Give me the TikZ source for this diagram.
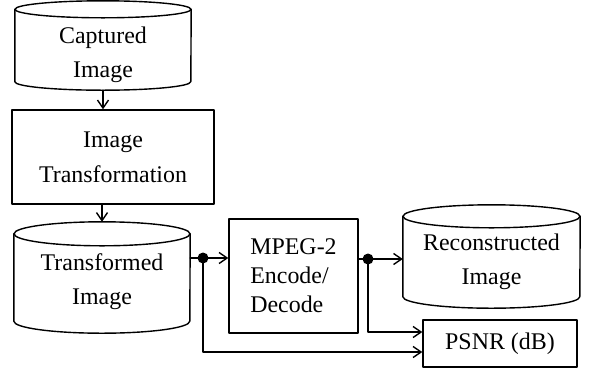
\documentclass[tikz,border=0pt]{standalone}
\usepackage{fontspec}
\setmainfont{Liberation Serif}
\usetikzlibrary{arrows.meta}

% zwei Zeilen im Zylinder, erste Grundlinie um #1 ueber der Mitte
\newcommand\disklines[2]{\raisebox{#1}[0pt][0pt]{%
    \begin{tabular}[t]{@{}c@{}}#2\end{tabular}}}

\begin{document}
\begin{tikzpicture}[
    x=1bp, y=-1bp,
    line cap=round,
    line join=round,
    every node/.style={font=\fontsize{24}{35}\selectfont, align=center},
    disk/.style={rectangle, inner sep=0pt, minimum width=176bp},
    stage/.style={rectangle, draw, line width=1.4bp, inner sep=0pt},
    flow/.style={line width=1.4bp, -{Straight Barb[length=8bp,width=11bp]}},
    wire/.style={line width=1.4bp}
]
\useasboundingbox (0,0) rectangle (597,370);

% Speicher und Bloecke
\node[disk, minimum height=89bp] (cap) at (103,45.5)
    {\disklines{2.5bp}{Captured\\Image}};
\node[stage, minimum width=202bp, minimum height=94bp] (trans) at (113,157)
    {Image\\Transformation};
\node[disk, minimum height=111bp] (tfd) at (102,277.5)
    {\disklines{7.5bp}{Transformed\\Image}};
\node[stage, minimum width=129bp, minimum height=114bp, align=left,
    font=\fontsize{24}{29}\selectfont] (mpeg) at (293.5,276)
    {MPEG-2\\Encode/\\Decode};
\node[disk, minimum width=177bp, minimum height=103bp] (rec) at (491.5,256.5)
    {\disklines{6.5bp}{Reconstructed\\Image}};
\node[stage, minimum width=154bp, minimum height=47bp] (psnr) at (500,343.5)
    {PSNR (dB)};

% Zylinderumrisse
\foreach \n/\rx/\ry in {cap/88/8.5, tfd/88/12, rec/88.5/11.5}{
    \draw[wire] ([yshift=-\ry bp]\n.north west) -- ([yshift=\ry bp]\n.south west)
        arc[start angle=180, end angle=360, x radius=\rx bp, y radius=\ry bp]
        -- ([yshift=-\ry bp]\n.north east);
    \draw[wire] ([yshift=-\ry bp]\n.north) ellipse [x radius=\rx bp, y radius=\ry bp];
}

% Verzweigungspunkte
\coordinate (d1) at (203,258);
\coordinate (d2) at (368,259);
\fill (d1) circle (5.5bp);
\fill (d2) circle (5.5bp);

% Verbindungen
\draw[flow] (cap.south) -- (cap.south |- trans.north);
\draw[flow] (tfd.north |- trans.south) -- (tfd.north);
\draw[wire] (tfd.east |- d1) -- (d1);
\draw[flow] (d1) -- (mpeg.west |- d1);
\draw[flow] (d1) |- ([yshift=-8.5bp]psnr.west);
\draw[wire] (mpeg.east |- d2) -- (d2);
\draw[flow] (d2) -- (rec.west |- d2);
\draw[flow] (d2) |- ([yshift=11.5bp]psnr.west);

\end{tikzpicture}
\end{document}
